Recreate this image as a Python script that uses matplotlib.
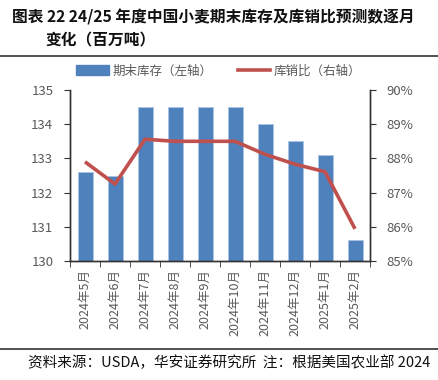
import matplotlib
matplotlib.use("Agg")
import matplotlib.pyplot as plt
import numpy as np
from matplotlib.patches import Patch
from matplotlib.lines import Line2D

plt.rcParams['font.family'] = ['Noto Sans CJK SC', 'DejaVu Sans']

categories = ["2024年5月", "2024年6月", "2024年7月", "2024年8月", "2024年9月",
              "2024年10月", "2024年11月", "2024年12月", "2025年1月", "2025年2月"]
stocks = [132.6, 132.5, 134.5, 134.5, 134.5, 134.5, 134.0, 133.5, 133.1, 130.6]
ratio = [87.9, 87.25, 88.56, 88.5, 88.5, 88.5, 88.12, 87.83, 87.61, 85.94]
left_ticks = [130, 131, 132, 133, 134, 135]
right_ticks = [85, 86, 87, 88, 89, 90]

bar_color = "#4F81BD"
line_color = "#C0504D"
grey = "#595959"

fig = plt.figure(figsize=(4.39, 3.80), dpi=100)
ax = fig.add_axes([70/439, 1-261/380, 300/439, 171/380])
ax2 = ax.twinx()

x = np.arange(len(categories))
ax.bar(x, stocks, width=0.5, color=bar_color, edgecolor="#A9C4E4", linewidth=0.6, zorder=2)
ax2.plot(x, ratio, color=line_color, linewidth=2.6, zorder=3, solid_capstyle='butt')

ax.set_xlim(-0.5, len(categories) - 0.5)
ax.set_ylim(130, 135)
ax.set_yticks(left_ticks)
ax.set_yticklabels([str(t) for t in left_ticks])
ax2.set_ylim(85, 90)
ax2.set_yticks(right_ticks)
ax2.set_yticklabels([f"{t}%" for t in right_ticks])

ax.set_xticks(x)
ax.set_xticklabels(categories, rotation=90)
ax.set_xticks(np.arange(-0.5, len(categories)), minor=True)
ax.tick_params(axis='x', which='major', length=0, pad=6, labelsize=9, labelcolor=grey)
ax.tick_params(axis='x', which='minor', length=4, direction='out', color='#333333')
ax.tick_params(axis='y', length=4, direction='out', labelsize=9.5, labelcolor=grey, color='#333333', pad=8)
ax2.tick_params(axis='y', length=4, direction='out', labelsize=9.5, labelcolor=grey, color='#333333', pad=8)

for a in (ax, ax2):
    a.spines['top'].set_visible(False)
    for s in ('left', 'right', 'bottom'):
        a.spines[s].set_color('#333333')
        a.spines[s].set_linewidth(1.0)
ax.patch.set_visible(False)
ax2.patch.set_visible(False)
ax.set_zorder(1); ax2.set_zorder(2)

handles = [Patch(facecolor=bar_color, edgecolor=bar_color, label="期末库存（左轴）"),
           Line2D([0], [0], color=line_color, linewidth=2.6, label="库销比（右轴）")]
fig.legend(handles=handles, loc='center', bbox_to_anchor=(219/439, 1-71/380), ncol=2,
           frameon=False, fontsize=9, labelcolor=grey, handlelength=2.6,
           handleheight=0.8, columnspacing=2.0, handletextpad=0.3)

fig.text(12/439, 1-17/380, "图表 22 24/25 年度中国小麦期末库存及库销比预测数逐月",
         fontsize=11.3, fontweight='bold', va='center', ha='left', color='#111111')
fig.text(45/439, 1-40/380, "变化（百万吨）",
         fontsize=11.3, fontweight='bold', va='center', ha='left', color='#111111')
fig.add_artist(Line2D([0, 1], [1-56/380, 1-56/380], transform=fig.transFigure, color='#333333', linewidth=1.2))
fig.add_artist(Line2D([0, 1], [1-349/380, 1-349/380], transform=fig.transFigure, color='#333333', linewidth=1.2))
fig.text(28/439, 1-363/380, "资料来源：USDA，华安证券研究所  注：根据美国农业部 2024",
         fontsize=10.5, va='center', ha='left', color='#111111')

fig.savefig("out.png", dpi=100)
